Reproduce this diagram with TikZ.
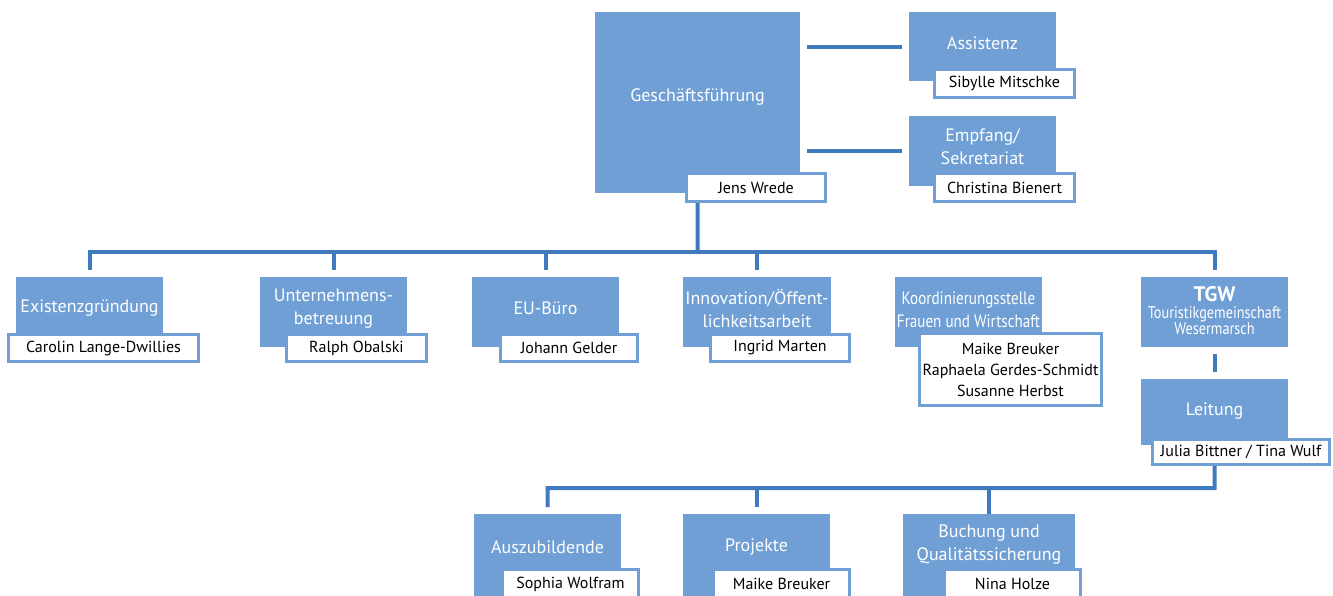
\documentclass[tikz,border=0pt]{standalone}
\usepackage{fontspec}
\setmainfont{PT Sans}
\newfontfamily\condfont[FakeStretch=0.84]{PT Sans}
\definecolor{boxblue}{HTML}{6F9FD4}
\definecolor{nameblue}{HTML}{6F9FD4}
\definecolor{connblue}{HTML}{3F7BBC}
\begin{document}
\begin{tikzpicture}[x=1pt,y=-1pt,
  dept/.style={fill=boxblue, draw=none, anchor=north west, inner sep=0pt},
  lbl/.style={text=white, font=\fontsize{18}{23}\selectfont, align=center, inner sep=0pt},
  clbl/.style={text=white, font=\condfont\fontsize{18}{23}\selectfont, align=center, inner sep=0pt},
  person/.style={fill=white, draw=nameblue, line width=3pt, font=\fontsize{16}{21}\selectfont, text=black, align=center, inner sep=0pt},
  conn/.style={draw=connblue, line width=4pt}]
\path[use as bounding box, clip] (0,0) rectangle (1333,595);

% top level
\node[dept, minimum width=205, minimum height=181] (gesch) at (595,12) {};
\node[lbl] (geschT) at (697.5,97) {Geschäftsführung};
\node[person, minimum width=139, minimum height=28] (jens) at (756,187.5) {Jens Wrede};

\node[dept, minimum width=147, minimum height=69] (assist) at (909,12) {};
\node[lbl] (assistT) at (982.5,43) {Assistenz};
\node[person, minimum width=140, minimum height=28] (sibylle) at (1004.5,83.5) {Sibylle Mitschke};

\node[dept, minimum width=147, minimum height=70] (empf) at (909,116) {};
\node[lbl] (empfT) at (982.5,147) {Empfang/\\Sekretariat};
\node[person, minimum width=140, minimum height=28] (christina) at (1004.5,187.5) {Christina Bienert};

% second level
\node[dept, minimum width=147, minimum height=63] (exi) at (16,277) {};
\node[lbl] (exiT) at (89.5,308) {Existenzgründung};
\node[person, minimum width=190, minimum height=27] (carolin) at (103.5,348) {Carolin Lange-Dwillies};

\node[dept, minimum width=147, minimum height=70] (unt) at (260,277) {};
\node[lbl] (untT) at (333.5,309) {Unternehmens-\\betreuung};
\node[person, minimum width=140, minimum height=27] (ralph) at (356.5,348) {Ralph Obalski};

\node[dept, minimum width=147, minimum height=70] (eu) at (472,277) {};
\node[lbl] (euT) at (545.5,308) {EU-Büro};
\node[person, minimum width=137, minimum height=27] (johann) at (569,348) {Johann Gelder};

\node[dept, minimum width=148, minimum height=70] (inn) at (683,277) {};
\node[lbl] (innT) at (757,309) {Innovation/Öffent-\\lichkeitsarbeit};
\node[person, minimum width=139, minimum height=27] (ingrid) at (780,348) {Ingrid Marten};

\node[dept, minimum width=147, minimum height=70] (koord) at (895,277) {};
\node[clbl] (koordT) at (968.5,310) {Koordinierungsstelle\\Frauen und Wirtschaft};
\node[person, minimum width=182, minimum height=72] (koordN) at (1010.5,369.5) {Maike Breuker\\Raphaela Gerdes-Schmidt\\Susanne Herbst};

\node[dept, minimum width=147, minimum height=70] (tgw) at (1141,277) {};
\node[text=white, align=center, inner sep=0pt, font=\condfont\fontsize{17}{16}\selectfont] (tgwT) at (1214.5,311) {\fontsize{21}{22}\selectfont\rmfamily\bfseries TGW\\[1pt]Touristikgemeinschaft\\Wesermarsch};

\node[dept, minimum width=147, minimum height=66] (lei) at (1141,379) {};
\node[lbl] (leiT) at (1214.5,411) {Leitung};
\node[person, minimum width=177, minimum height=25] (julia) at (1241,452) {Julia Bittner / Tina Wulf};

% third level
\node[dept, minimum width=147, minimum height=90] (aus) at (474,514) {};
\node[lbl] (ausT) at (547.5,547) {Auszubildende};
\node[person, minimum width=136, minimum height=29] (sophia) at (570.5,584) {Sophia Wolfram};

\node[dept, minimum width=147, minimum height=90] (proj) at (683,514) {};
\node[lbl] (projT) at (756.5,547) {Projekte};
\node[person, minimum width=136, minimum height=29] (maike) at (781.5,584) {Maike Breuker};

\node[dept, minimum width=172, minimum height=90] (buch) at (903,514) {};
\node[lbl] (buchT) at (989,545) {Buchung und\\Qualitätssicherung};
\node[person, minimum width=136, minimum height=29] (nina) at (1012.5,584) {Nina Holze};

% connectors
\draw[conn] ([xshift=7pt]gesch.east |- assist.west) -- ([xshift=-7pt]assist.west);
\draw[conn] ([xshift=7pt]gesch.east |- empf.west) -- ([xshift=-7pt]empf.west);

\coordinate (bus) at (697.5,252);
\draw[conn] (gesch.south |- jens.south) -- (bus);
\draw[conn] ([yshift=7pt]exi.north) |- (bus) -| ([yshift=7pt]tgw.north);
\draw[conn] ([yshift=7pt]unt.north) -- (unt.north |- bus);
\draw[conn] ([yshift=7pt]eu.north) -- (eu.north |- bus);
\draw[conn] ([yshift=7pt]inn.north) -- (inn.north |- bus);

\draw[conn] ([yshift=-7pt]tgw.south) -- ([yshift=7pt]lei.north);

\coordinate (bus2) at (1214.5,488);
\draw[conn] (lei.south |- julia.south) -- (bus2) -| ([yshift=7pt]aus.north);
\draw[conn] ([yshift=7pt]proj.north) -- (proj.north |- bus2);
\draw[conn] (buch.north) -- (buch.north |- bus2);
\end{tikzpicture}
\end{document}
